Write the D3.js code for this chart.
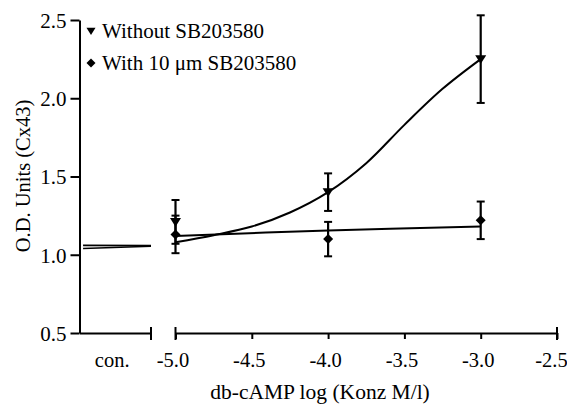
<!DOCTYPE html>
<html>
<head>
<meta charset="utf-8">
<script src="https://cdn.jsdelivr.net/npm/d3@7"></script>
<style>
  body { margin: 0; background: #fff; }
  .axis path, .axis line { stroke: #000; stroke-width: 2; }
</style>
</head>
<body>
<script>
// data
const doses = [-5, -4, -3]
const withoutMean = [1.21, 1.40, 2.25]
const withoutErr = [0.14, 0.12, 0.28]
const withMean = [1.13, 1.10, 1.22]
const withErr = [0.12, 0.11, 0.12]

// fitted curves
const fitX = [-5, -4.75, -4.5, -4.25, -4, -3.75, -3.5, -3.25, -3]
const fitWithout = [1.08, 1.125, 1.18, 1.27, 1.40, 1.585, 1.83, 2.06, 2.25]
const fitWithX = [-5, -4, -3]
const fitWith = [1.12, 1.155, 1.18]

// control segment (position 0..1 inside the "con." block)
const conX = [0.05, 1]
const conWithout = [1.04, 1.054]
const conWith = [1.06, 1.058]

const xTicks = [-5.0, -4.5, -4.0, -3.5, -3.0, -2.5]
const yTicks = [0.5, 1.0, 1.5, 2.0, 2.5]

const W = 567, H = 407
const FONT = '"Liberation Serif", "Times New Roman", serif'

let svg = d3.select('body').append('svg')
    .attr('width', W)
    .attr('height', H)

let y = d3.scaleLinear()
    .domain([0.5, 2.5])
    .range([333, 20])

let x = d3.scaleLinear()
    .domain([-5, -2.5])
    .range([175.5, 557])

let xCon = d3.scaleLinear()
    .domain([0, 1])
    .range([79.5, 151])

const axisY = y(0.5)

// y axis
svg.append('g')
    .attr('class', 'y axis')
    .attr('transform', 'translate(79.5,0)')
    .call(d3.axisLeft(y).tickValues(yTicks).tickFormat(d => d.toFixed(1)).tickSize(9).tickSizeOuter(0).tickPadding(4))
    .call(g => g.selectAll('text').attr('dy', '0.35em')
        .style('font-family', FONT).style('font-size', '21px').attr('fill', '#000'))

// x axis, control block
svg.append('g')
    .attr('class', 'x axis')
    .attr('transform', `translate(0,${axisY})`)
    .call(d3.axisBottom(xCon).tickValues([0.45]).tickFormat(() => 'con.').tickSize(0).tickSizeOuter(0).tickPadding(19))
    .call(g => g.selectAll('text').style('font-family', FONT).style('font-size', '20.5px').attr('fill', '#000'))

// x axis, dose block
svg.append('g')
    .attr('class', 'x axis')
    .attr('transform', `translate(0,${axisY})`)
    .call(d3.axisBottom(x).tickValues(xTicks).tickFormat(d => d.toFixed(1)).tickSize(6).tickSizeOuter(0).tickPadding(13))
    .call(g => g.selectAll('text').attr('dx', -3)
        .style('font-family', FONT).style('font-size', '20.5px').attr('fill', '#000'))
    .call(g => g.selectAll('.tick:last-of-type text').attr('dx', -6))

// end caps of the broken axis
const caps = [xCon(1), x(-5), x(-2.5)]
svg.append('g')
    .selectAll('line')
    .data(caps)
    .join('line')
      .attr('x1', d => d).attr('x2', d => d)
      .attr('y1', axisY - 6).attr('y2', axisY + 7)
      .attr('stroke', '#000')
      .attr('stroke-width', 2)

// fitted lines
const line = d3.line()
    .x(d => x(d[0]))
    .y(d => y(d[1]))
    .curve(d3.curveCatmullRom)

svg.append('path')
    .datum(fitX.map((v, i) => [v, fitWithout[i]]))
    .attr('d', line)
    .attr('fill', 'none')
    .attr('stroke', '#000')
    .attr('stroke-width', 2)

svg.append('path')
    .datum(fitWithX.map((v, i) => [v, fitWith[i]]))
    .attr('d', line)
    .attr('fill', 'none')
    .attr('stroke', '#000')
    .attr('stroke-width', 2)

const conLine = d3.line()
    .x(d => xCon(d[0]))
    .y(d => y(d[1]))

for (const s of [conWithout, conWith]) {
  svg.append('path')
      .datum(conX.map((v, i) => [v, s[i]]))
      .attr('d', conLine)
      .attr('fill', 'none')
      .attr('stroke', '#000')
      .attr('stroke-width', 1.6)
}

// error bars and markers
const capW = 4
function drawSeries(mean, err, symbol, size) {
  let g = svg.append('g')
  let pts = doses.map((d, i) => ({x: d, m: mean[i], e: err[i]}))
  let eb = g.selectAll('.eb')
    .data(pts)
    .join('g')
  eb.append('line')
      .attr('x1', d => x(d.x)).attr('x2', d => x(d.x))
      .attr('y1', d => y(d.m - d.e)).attr('y2', d => y(d.m + d.e))
      .attr('stroke', '#000').attr('stroke-width', 2.2)
  eb.selectAll('.cap')
    .data(d => [[d.x, d.m - d.e], [d.x, d.m + d.e]])
    .join('line')
      .attr('x1', d => x(d[0]) - capW).attr('x2', d => x(d[0]) + capW)
      .attr('y1', d => y(d[1])).attr('y2', d => y(d[1]))
      .attr('stroke', '#000').attr('stroke-width', 2)
  g.selectAll('.pt')
    .data(pts)
    .join('path')
      .attr('transform', d => `translate(${x(d.x)},${y(d.m)})`)
      .attr('d', symbol(size))
      .attr('fill', '#000')
}

const triDown = s => `M${-s},${-s * 0.7}L${s},${-s * 0.7}L0,${s * 0.9}Z`
const diamond = s => `M0,${-s}L${s},0L0,${s}L${-s},0Z`

drawSeries(withoutMean, withoutErr, triDown, 5.5)
drawSeries(withMean, withErr, diamond, 5)

// legend
const legendItems = ['Without SB203580', 'With 10 \u03bcm SB203580']
const legendSym = [triDown, diamond]
let legend = svg.append('g')
    .selectAll('g')
    .data(legendItems)
    .join('g')
      .attr('transform', (d, i) => `translate(91,${31 + i * 32})`)
legend.append('path')
    .attr('d', (d, i) => legendSym[i](4.5))
    .attr('fill', '#000')
legend.append('text')
    .attr('x', 11)
    .attr('dy', '0.35em')
    .style('font-family', FONT)
    .style('font-size', '21px')
    .text(d => d)

// axis titles
svg.append('text')
    .attr('transform', `translate(30,${176}) rotate(-90)`)
    .attr('text-anchor', 'middle')
    .style('font-family', FONT)
    .style('font-size', '20.5px')
    .text('O.D. Units (Cx43)')

svg.append('text')
    .attr('x', 320)
    .attr('y', 399)
    .attr('text-anchor', 'middle')
    .style('font-family', FONT)
    .style('font-size', '21.5px')
    .text('db-cAMP log (Konz M/l)')
</script>
</body>
</html>
